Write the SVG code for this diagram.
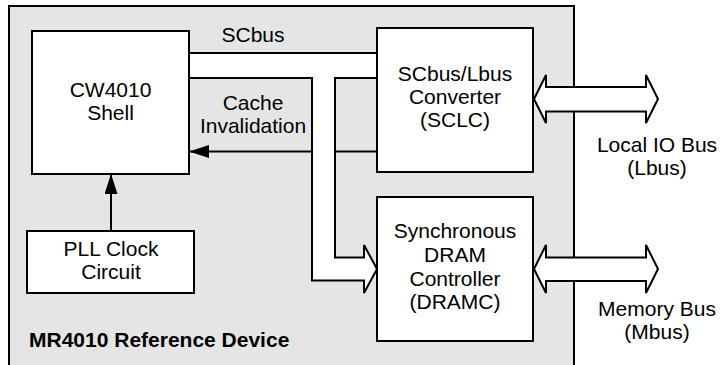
<svg xmlns="http://www.w3.org/2000/svg" width="723" height="365" viewBox="0 0 723 365">
<style>
  .box { fill: #ffffff; stroke: #000000; stroke-width: 2; }
  .bus { fill: #ffffff; stroke: #000000; stroke-width: 2; stroke-linejoin: miter; }
  .line { fill: none; stroke: #000000; stroke-width: 2; }
  text { font-family: "Liberation Sans", Arial, sans-serif; font-size: 21px; fill: #000000; text-anchor: middle; }
  .title { font-weight: bold; text-anchor: start; }
</style>
<defs>
  <marker id="ah" markerWidth="20" markerHeight="13" refX="19" refY="6.5" orient="auto" markerUnits="userSpaceOnUse">
    <path d="M0,0 L20,6.5 L0,13 Z" fill="#000000"/>
  </marker>
</defs>
<rect width="723" height="365" fill="#ffffff"/>
<g id="device">
  <rect x="9" y="6" width="565" height="380" fill="#e5e5e5" stroke="#000000" stroke-width="2"/>
  <text class="title" x="29" y="347">MR4010 Reference Device</text>
</g>
<g id="connectors">
  <line class="line" x1="377" y1="151.5" x2="190" y2="151.5" marker-end="url(#ah)"/>
  <line class="line" x1="111" y1="231" x2="111" y2="175" marker-end="url(#ah)"/>
  <polygon class="bus" points="189,53 377,53 377,78 335,78 335,257.5 364,257.5 364,245 377,269 364,293 364,280.5 312,280.5 312,78 189,78"/>
  <polygon class="bus" points="534,99 546,75 546,87 646,87 646,75 658,99 646,123 646,111.5 546,111.5 546,123"/>
  <polygon class="bus" points="534,269 546,245 546,257.5 646,257.5 646,245 658,269 646,293 646,281 546,281 546,293"/>
  <text x="253" y="42">SCbus</text>
  <text x="253" y="110">Cache</text>
  <text x="253" y="133">Invalidation</text>
  <text x="657" y="152">Local IO Bus</text>
  <text x="657" y="175">(Lbus)</text>
  <text x="657" y="316">Memory Bus</text>
  <text x="657" y="339">(Mbus)</text>
</g>
<g id="cw4010">
  <rect class="box" x="32" y="31" width="157" height="143"/>
  <text x="110.5" y="97">CW4010</text>
  <text x="110.5" y="120">Shell</text>
</g>
<g id="pll">
  <rect class="box" x="27" y="231" width="167" height="62"/>
  <text x="111" y="256">PLL Clock</text>
  <text x="111" y="279">Circuit</text>
</g>
<g id="sclc">
  <rect class="box" x="377" y="28" width="156" height="144"/>
  <text x="455" y="81">SCbus/Lbus</text>
  <text x="455" y="104">Converter</text>
  <text x="455" y="127">(SCLC)</text>
</g>
<g id="dramc">
  <rect class="box" x="377" y="197" width="156" height="144"/>
  <text x="455" y="238">Synchronous</text>
  <text x="455" y="262">DRAM</text>
  <text x="455" y="286">Controller</text>
  <text x="455" y="309">(DRAMC)</text>
</g>
</svg>
